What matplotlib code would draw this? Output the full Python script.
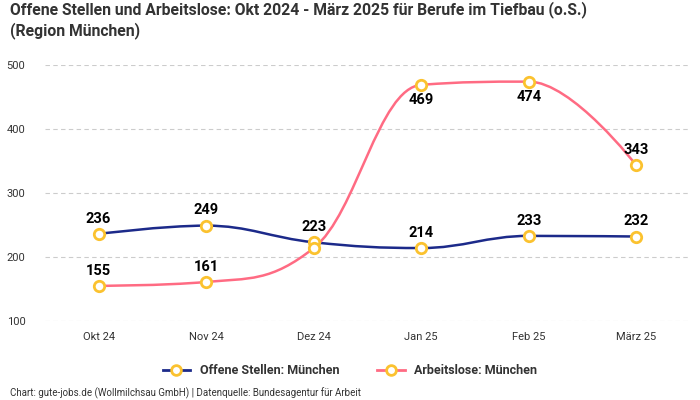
import matplotlib
matplotlib.use("Agg")
import matplotlib.pyplot as plt
from matplotlib.path import Path
from matplotlib.patches import PathPatch
from matplotlib.lines import Line2D
import numpy as np

plt.rcParams['font.family'] = ['Roboto', 'DejaVu Sans']

months = ["Okt 24", "Nov 24", "Dez 24", "Jan 25", "Feb 25", "März 25"]
offene = [236, 249, 223, 214, 233, 232]
arbeitslose = [155, 161, 214, 469, 474, 343]
yticks = [100, 200, 300, 400, 500]

c_off = "#1c2a8a"
c_arb = "#ff6b83"
c_mark = "#fbc22f"

def spline_path(xs, ys, smoothing=1.5):
    n = len(xs)
    verts = [(xs[0], ys[0])]
    codes = [Path.MOVETO]
    rc = [None] * n
    for i in range(1, n):
        px, py = xs[i], ys[i]
        lx, ly = xs[i - 1], ys[i - 1]
        lcx, lcy = px, py
        if i < n - 1:
            nx, ny = xs[i + 1], ys[i + 1]
            d = smoothing + 1
            lcx = (smoothing * px + lx) / d
            lcy = (smoothing * py + ly) / d
            rcx = (smoothing * px + nx) / d
            rcy = (smoothing * py + ny) / d
            corr = 0
            if rcx != lcx:
                corr = (rcy - lcy) * (rcx - px) / (rcx - lcx) + py - rcy
            lcy += corr
            rcy += corr
            if lcy > ly and lcy > py:
                lcy = max(ly, py); rcy = 2 * py - lcy
            elif lcy < ly and lcy < py:
                lcy = min(ly, py); rcy = 2 * py - lcy
            if rcy > ny and rcy > py:
                rcy = max(ny, py); lcy = 2 * py - rcy
            elif rcy < ny and rcy < py:
                rcy = min(ny, py); lcy = 2 * py - rcy
            rc[i] = (rcx, rcy)
        prev_rc = rc[i - 1] if rc[i - 1] is not None else (lx, ly)
        verts += [prev_rc, (lcx, lcy), (px, py)]
        codes += [Path.CURVE4, Path.CURVE4, Path.CURVE4]
    return Path(verts, codes)

fig = plt.figure(figsize=(7, 4), dpi=100)
ax = fig.add_axes([0.064, 0.1975, 0.922, 0.64])
ax.set_xlim(-0.5, 5.5)
ax.set_ylim(100, 500)

x = np.arange(len(months))
for vals, col in [(offene, c_off), (arbeitslose, c_arb)]:
    p = spline_path(list(x.astype(float)), [float(v) for v in vals])
    ax.add_patch(PathPatch(p, facecolor='none', edgecolor=col, lw=1.8, zorder=3, capstyle='round'))
    ax.plot(x, vals, linestyle='none', marker='o', ms=7.5, mfc='white', mec=c_mark, mew=2,
            zorder=4, clip_on=False)

# data labels
for i, v in enumerate(offene):
    ax.annotate(str(v), (i, v), xytext=(0, 11), textcoords='offset points', ha='center',
                va='center', fontsize=10.5, fontweight='bold', color='black', zorder=5)
for i, v in enumerate(arbeitslose):
    if i == 2:
        continue
    off = -11 if v > 440 else 11
    ax.annotate(str(v), (i, v), xytext=(0, off), textcoords='offset points', ha='center',
                va='center', fontsize=10.5, fontweight='bold', color='black', zorder=5)

ax.set_yticks(yticks)
ax.set_xticks(x)
ax.set_xticklabels(months)
ax.grid(axis='y', color='#cccccc', linestyle=(0, (4, 3)), lw=0.8)
ax.set_axisbelow(True)
for s in ax.spines.values():
    s.set_visible(False)
ax.tick_params(axis='both', length=0, labelsize=8, labelcolor='#333333')
ax.tick_params(axis='y', pad=14)
ax.tick_params(axis='x', pad=8)

fig.text(10 / 700, 1 - 1 / 400, "Offene Stellen und Arbeitslose: Okt 2024 - März 2025 für Berufe im Tiefbau (o.S.)\n(Region München)",
         ha='left', va='top', fontsize=11.3, fontweight='bold', color='#333333', linespacing=1.3)
fig.text(10 / 700, 1 - 393 / 400, "Chart: gute-jobs.de (Wollmilchsau GmbH) | Datenquelle: Bundesagentur für Arbeit",
         ha='left', va='center', fontsize=7, color='#333333')

handles = [Line2D([0], [0], color=c_off, lw=2, marker='o', ms=7, mfc='white', mec=c_mark, mew=2),
           Line2D([0], [0], color=c_arb, lw=2, marker='o', ms=7, mfc='white', mec=c_mark, mew=2)]
leg = fig.legend(handles, ["Offene Stellen: München", "Arbeitslose: München"], loc='center',
                 bbox_to_anchor=(0.5, 1 - 371 / 400), ncol=2, frameon=False, handlelength=2.2,
                 columnspacing=3, prop={'weight': 'bold', 'size': 9})
for t in leg.get_texts():
    t.set_color('#333333')

fig.savefig("out.png", dpi=100)
